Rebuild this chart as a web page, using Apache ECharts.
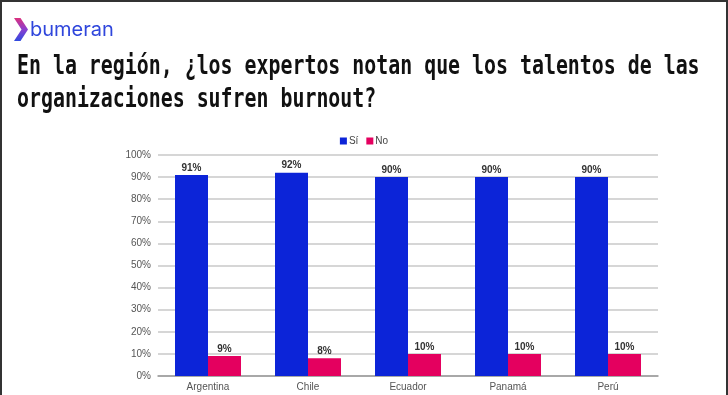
<!DOCTYPE html>
<html>
<head>
<meta charset="utf-8">
<script src="https://cdn.jsdelivr.net/npm/echarts@6/dist/echarts.min.js"></script>
<style>
html,body{margin:0;padding:0;background:#fff;}
#frame{position:absolute;left:0;top:0;width:724px;height:395px;border-left:2px solid #333;border-right:2px solid #333;border-top:2px solid #333;box-sizing:content-box;}
#chart{position:absolute;left:0;top:0;width:728px;height:395px;}
</style>
</head>
<body>
<div id="chart"></div>
<div id="frame"></div>
<script>
const categories = ['Argentina', 'Chile', 'Ecuador', 'Panamá', 'Perú'];
const siValues = [91, 92, 90, 90, 90];
const noValues = [9, 8, 10, 10, 10];
const seriesNames = ['Sí', 'No'];
const titleLines = ['En la región, ¿los expertos notan que los talentos de las', 'organizaciones sufren burnout?'];
const brand = 'bumeran';

const chart = echarts.init(document.getElementById('chart'), null, {renderer: 'canvas'});
const labelStyle = {show: true, position: 'top', formatter: '{c}%', fontFamily: 'Liberation Sans', fontWeight: 'bold', fontSize: 10, color: '#333', distance: 2};
chart.setOption({
  animation: false,
  backgroundColor: '#fff',
  legend: {
    data: seriesNames, top: 131, left: 'center', itemWidth: 7, itemHeight: 7, itemGap: 8,
    icon: 'rect',
    textStyle: {fontFamily: 'Liberation Sans', fontSize: 10, color: '#444', padding: [0, 0, 0, -3]}
  },
  grid: {left: 158, right: 70, top: 155, bottom: 19, containLabel: false},
  xAxis: {
    type: 'category', data: categories,
    axisTick: {show: false},
    axisLine: {lineStyle: {color: '#999', width: 1.5}},
    axisLabel: {fontFamily: 'Liberation Sans', fontSize: 10, color: '#555', margin: 6}
  },
  yAxis: {
    type: 'value', min: 0, max: 100, interval: 10,
    axisLabel: {formatter: '{value}%', fontFamily: 'Liberation Sans', fontSize: 10, color: '#555', margin: 7},
    splitLine: {lineStyle: {color: '#c8c8c8', width: 1.5}},
    axisLine: {show: false}, axisTick: {show: false}
  },
  series: [
    {name: seriesNames[0], type: 'bar', data: siValues, barGap: '0%', barCategoryGap: '34%',
     itemStyle: {color: '#0c24d8'}, label: labelStyle},
    {name: seriesNames[1], type: 'bar', data: noValues,
     itemStyle: {color: '#e4005f'}, label: labelStyle}
  ],
  graphic: [
    {type: 'polygon', shape: {points: [[14,18],[20.5,18],[28,29.5],[20.5,41],[14,41],[21.5,29.5]]},
     style: {fill: new echarts.graphic.LinearGradient(0,0,0,1,[{offset:0,color:'#e0307a'},{offset:0.5,color:'#8a3fd0'},{offset:1,color:'#2b4be0'}]), lineJoin: 'round', stroke: 'rgba(0,0,0,0)'}},
    {type: 'text', x: 30, y: 30, style: {text: brand, fontFamily: 'Inter', fontSize: 20, fill: '#2f46dc', verticalAlign: 'middle'}},
    {type: 'text', x: 17, y: 67.5, scaleY: 1.33, originY: 0, style: {text: titleLines[0], fontFamily: 'DejaVu Sans Mono', fontWeight: 'bold', fontSize: 19.9, fill: '#111', verticalAlign: 'middle'}},
    {type: 'text', x: 17, y: 100.5, scaleY: 1.33, originY: 0, style: {text: titleLines[1], fontFamily: 'DejaVu Sans Mono', fontWeight: 'bold', fontSize: 19.9, fill: '#111', verticalAlign: 'middle'}}
  ]
});
</script>
</body>
</html>
